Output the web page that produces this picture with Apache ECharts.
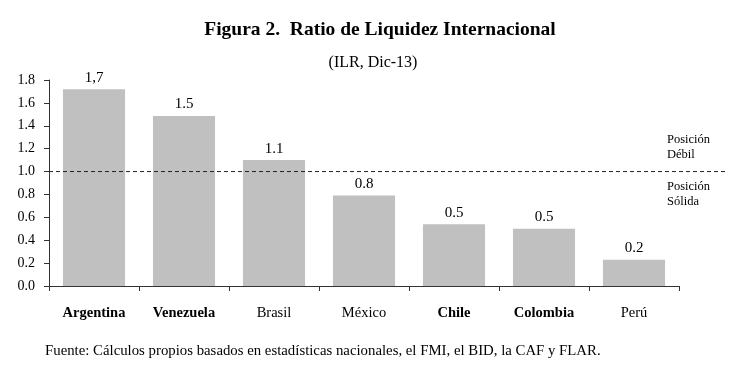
<!DOCTYPE html>
<html><head><meta charset="utf-8">
<script src="https://cdn.jsdelivr.net/npm/echarts@6/dist/echarts.min.js"></script>
<style>html,body{margin:0;padding:0;background:#fff}#c{width:730px;height:369px}</style>
</head><body><div id="c"></div>
<script>
const categories = ['Argentina','Venezuela','Brasil','México','Chile','Colombia','Perú'];
const values = [1.72, 1.485, 1.10, 0.79, 0.54, 0.50, 0.23];
const valueLabels = ['1,7','1.5','1.1','0.8','0.5','0.5','0.2'];
const boldCategories = ['Argentina','Venezuela','Chile','Colombia'];
const threshold = 1.0;
const yTicks = [0,0.2,0.4,0.6,0.8,1.0,1.2,1.4,1.6,1.8];

const F = '"Liberation Serif","Times New Roman",serif';
const chart = echarts.init(document.getElementById('c'));
chart.setOption({
  animation: false,
  textStyle: {fontFamily: F},
  title: [
    {text: 'Figura 2.  Ratio de Liquidez Internacional', left: 375, textAlign: 'center', top: 15,
     textStyle: {fontFamily: F, fontSize: 19.5, fontWeight: 'bold', color: '#000'}},
    {text: '(ILR, Dic-13)', left: 368, textAlign: 'center', top: 50,
     textStyle: {fontFamily: F, fontSize: 16, fontWeight: 'normal', color: '#000'}}
  ],
  grid: {left: 49, right: 51, top: 80, bottom: 83, containLabel: false},
  xAxis: {
    type: 'category', data: categories,
    axisLine: {lineStyle: {color: '#333', width: 1}},
    axisTick: {show: true, alignWithLabel: false, length: 5, inside: false, lineStyle: {color: '#333'}},
    axisLabel: {
      interval: 0, margin: 20, fontFamily: F, fontSize: 14.5, color: '#000',
      formatter: v => boldCategories.includes(v) ? '{b|' + v + '}' : '{n|' + v + '}',
      rich: {b: {fontFamily: F, fontSize: 14.5, fontWeight: 'bold', color: '#000'},
             n: {fontFamily: F, fontSize: 14.5, fontWeight: 'normal', color: '#000'}}
    }
  },
  yAxis: {
    type: 'value', min: 0, max: 1.8, interval: 0.2,
    axisLine: {show: true, lineStyle: {color: '#333', width: 1}},
    axisTick: {show: true, length: 5, lineStyle: {color: '#333'}},
    splitLine: {show: false},
    axisLabel: {margin: 14, fontFamily: F, fontSize: 14, color: '#000',
      formatter: v => v.toFixed(1)}
  },
  series: [{
    type: 'bar', data: values, barCategoryGap: '31%',
    itemStyle: {color: '#c0c0c0'},
    label: {show: true, position: 'top', distance: 4, fontFamily: F, fontSize: 15, color: '#000',
      formatter: p => valueLabels[p.dataIndex]}
  }]
});
const y1 = chart.convertToPixel({yAxisIndex: 0}, threshold);
const x0 = chart.convertToPixel({xAxisIndex: 0}, categories[0]) - 45;
chart.setOption({
  graphic: [
    {type: 'line', shape: {x1: x0, y1: y1, x2: 728, y2: y1}, z: 10,
     style: {stroke: '#222', lineWidth: 1, lineDash: [4, 3]}},
    {type: 'text', x: 667, y: y1 - 39, z: 10, style: {text: 'Posición\nDébil', font: '12.5px ' + F, fill: '#000', lineHeight: 15}},
    {type: 'text', x: 667, y: y1 + 8, z: 10, style: {text: 'Posición\nSólida', font: '12.5px ' + F, fill: '#000', lineHeight: 15}},
    {type: 'text', x: 45, y: 344, style: {text: 'Fuente: Cálculos propios basados en estadísticas nacionales, el FMI, el BID, la CAF y FLAR.', font: '14.8px ' + F, fill: '#000'}}
  ]
});
</script></body></html>
